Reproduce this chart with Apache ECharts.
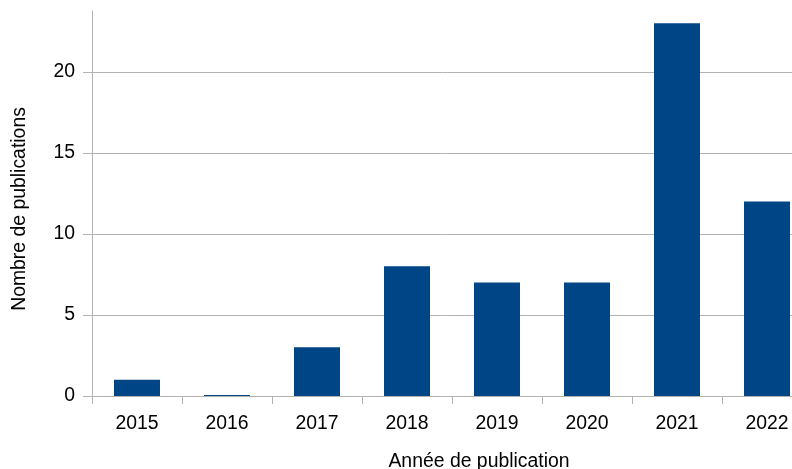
<!DOCTYPE html>
<html>
<head>
<meta charset="utf-8">
<script src="https://cdn.jsdelivr.net/npm/echarts@6/dist/echarts.min.js"></script>
<style>
	html, body { margin: 0; padding: 0; background: #fff; }
	#main { width: 792px; height: 469px; }
</style>
</head>
<body>
<div id="main"></div>
<script>
// données
var annees = ['2015', '2016', '2017', '2018', '2019', '2020', '2021', '2022'];
var publications = [1, 0, 3, 8, 7, 7, 23, 12];
var graduations = [0, 5, 10, 15, 20];

var myChart = echarts.init(document.getElementById('main'));
var police = 'Liberation Sans, Arial, sans-serif';
var gris = '#b3b3b3';

var option = {
	animation: false,
	grid: {
		left: 92,
		width: 720,
		top: 11,
		height: 385,
		containLabel: false,
		outerBoundsMode: 'none'
	},
	xAxis: {
		type: 'category',
		data: annees,
		boundaryGap: true,
		name: 'Année de publication',
		nameLocation: 'middle',
		nameGap: 56,
		nameTextStyle: { color: '#000', fontSize: 19.4, fontFamily: police, padding: [0, 0, 0, 54] },
		axisLine: { lineStyle: { color: gris, width: 1 } },
		axisTick: { show: true, length: 8, lineStyle: { color: gris } },
		axisLabel: { color: '#000', fontSize: 19.4, fontFamily: police, margin: 18 },
		splitLine: { show: false }
	},
	yAxis: {
		type: 'value',
		min: 0,
		max: 23.75,
		interval: 5,
		name: 'Nombre de publications',
		nameLocation: 'middle',
		nameGap: 63,
		nameRotate: 90,
		nameTextStyle: { color: '#000', fontSize: 19.4, fontFamily: police, padding: [0, 11, 0, 0] },
		axisLine: { show: true, lineStyle: { color: gris, width: 1 } },
		axisTick: { show: true, length: 9, lineStyle: { color: gris }, customValues: graduations },
		axisLabel: { color: '#000', fontSize: 19.4, fontFamily: police, margin: 17, customValues: graduations },
		splitLine: {
			show: true,
			lineStyle: { color: [gris, gris, gris, gris, gris, 'rgba(0,0,0,0)'], width: 1 }
		}
	},
	series: [
		{
			type: 'bar',
			data: publications,
			barWidth: 46,
			barMinHeight: 1,
			itemStyle: { color: '#004586' }
		}
	]
};

myChart.setOption(option);
</script>
</body>
</html>
